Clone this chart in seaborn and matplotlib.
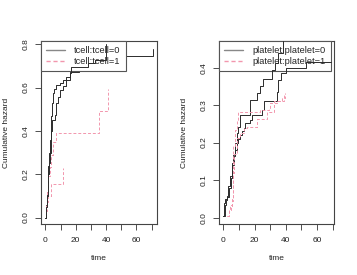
import matplotlib
matplotlib.use("Agg")
import matplotlib.pyplot as plt
from matplotlib.lines import Line2D
import seaborn as sns
import pandas as pd

# ---- data: left panel (tcell) ----
tcell0_a_time = [0, 0.5, 1, 1.5, 2, 2.5, 3, 3.5, 4, 4.5, 5, 6, 7.2, 9.4, 11.6, 13.9, 16, 22, 30, 40, 71]
tcell0_a_haz = [0, 0.06, 0.12, 0.18, 0.24, 0.30, 0.36, 0.41, 0.47, 0.53, 0.574, 0.595, 0.612, 0.62, 0.635, 0.651, 0.674, 0.69, 0.71, 0.745, 0.776]
tcell0_b_time = [0, 0.5, 1, 1.5, 2, 2.5, 3, 3.5, 4, 4.4, 6.1, 7.2, 8.3, 9.4, 11.6, 13.9, 16, 17.2, 28, 33, 40]
tcell0_b_haz = [0, 0.05, 0.1, 0.15, 0.2, 0.25, 0.3, 0.35, 0.40, 0.45, 0.474, 0.528, 0.558, 0.589, 0.605, 0.635, 0.666, 0.697, 0.712, 0.728, 0.80]
tcell1_a_time = [0.3, 0.7, 1.2, 1.8, 2.9, 4, 5, 6.8, 35.3, 41.3]
tcell1_a_haz = [0.02, 0.06, 0.12, 0.19, 0.235, 0.29, 0.35, 0.39, 0.492, 0.592]
tcell1_b_time = [0.5, 1.2, 1.8, 3.5, 11.3]
tcell1_b_haz = [0.03, 0.07, 0.10, 0.154, 0.228]

# ---- data: right panel (platelet) ----
plt0_a_time = [0, 0.6, 1.2, 2.1, 3.2, 4.3, 5.3, 6.4, 7.4, 8.5, 9.6, 10.6, 17, 21.3, 23.4, 25.1, 30.9, 33, 35, 38.3]
plt0_a_haz = [0.004, 0.04, 0.05, 0.058, 0.084, 0.11, 0.146, 0.168, 0.2, 0.226, 0.243, 0.274, 0.314, 0.332, 0.35, 0.369, 0.394, 0.412, 0.44, 0.47]
plt0_b_time = [0, 0.8, 1.5, 2.4, 3.5, 4.6, 5.6, 6.6, 7.4, 8.5, 9.6, 10.6, 11.9, 13, 14, 17.2, 18.3, 24.7, 25.8, 33.2, 34.3, 35.1, 37.2, 40.4, 53.2, 69]
plt0_b_haz = [0.004, 0.035, 0.047, 0.055, 0.08, 0.105, 0.14, 0.165, 0.181, 0.2, 0.21, 0.22, 0.232, 0.239, 0.252, 0.261, 0.274, 0.288, 0.31, 0.31, 0.336, 0.367, 0.385, 0.398, 0.414, 0.414]
plt1_a_time = [2.1, 3.5, 4.3, 5.3, 6.0, 6.4, 7.4, 8.5, 9.6, 23.6, 29, 30, 34.3, 37.5, 39.4]
plt1_a_haz = [0.004, 0.02, 0.035, 0.05, 0.13, 0.19, 0.235, 0.26, 0.283, 0.287, 0.292, 0.305, 0.31, 0.319, 0.332]
plt1_b_time = [2.5, 3.7, 4.8, 5.5, 6.2, 7.0, 8.7, 10.9, 13, 15.1, 21.5, 27.9, 32.2, 38.5]
plt1_b_haz = [0.004, 0.02, 0.03, 0.045, 0.12, 0.17, 0.212, 0.226, 0.239, 0.243, 0.263, 0.283, 0.31, 0.327]

labels_left = ["tcell:tcell=0", "tcell:tcell=1"]
labels_right = ["platelet:platelet=0", "platelet:platelet=1"]
x_ticks = [0, 10, 20, 30, 40, 50, 60, 70]
x_ticklabels = ["0", "", "20", "", "40", "", "60", ""]
y_ticks_left = [0.0, 0.2, 0.4, 0.6, 0.8]
y_ticks_right = [0.0, 0.1, 0.2, 0.3, 0.4]

sns.set_theme(style="ticks")
plt.rcParams["font.family"] = ["Liberation Sans", "DejaVu Sans"]

BLACK = "#2b2b2b"
PINK = "#f296ad"
LW = 0.7

fig = plt.figure(figsize=(3.57, 2.75), dpi=100)
ax1 = fig.add_axes([41/357, 51/275, 116/357, 183/275])
ax2 = fig.add_axes([219.3/357, 51/275, 114.7/357, 183/275])


def step(ax, t, h, color, ls, z):
    df = pd.DataFrame({"time": t, "haz": h})
    sns.lineplot(data=df, x="time", y="haz", ax=ax, color=color, linestyle=ls,
                 linewidth=LW, drawstyle="steps-post", estimator=None, sort=False,
                 legend=False, zorder=z)


# left
step(ax1, tcell0_a_time, tcell0_a_haz, BLACK, "-", 2)
step(ax1, tcell0_b_time, tcell0_b_haz, BLACK, "-", 6)
step(ax1, tcell1_a_time, tcell1_a_haz, PINK, (0, (3, 2)), 2)
step(ax1, tcell1_b_time, tcell1_b_haz, PINK, (0, (3, 2)), 2)
# right
step(ax2, plt0_a_time, plt0_a_haz, BLACK, "-", 6)
step(ax2, plt0_b_time, plt0_b_haz, BLACK, "-", 6)
step(ax2, plt1_a_time, plt1_a_haz, PINK, (0, (3, 2)), 6)
step(ax2, plt1_b_time, plt1_b_haz, PINK, (0, (3, 2)), 6)

for ax, yt, ylim, xlim, labs in [
    (ax1, y_ticks_left, (-0.03, 0.815), (-2.9, 73.6), labels_left),
    (ax2, y_ticks_right, (-0.017, 0.471), (-2.6, 70.8), labels_right),
]:
    ax.set_xlim(*xlim)
    ax.set_ylim(*ylim)
    ax.set_xticks(x_ticks)
    ax.set_xticklabels(x_ticklabels)
    ax.set_yticks(yt)
    ax.set_yticklabels([f"{v:.1f}" for v in yt], rotation=90, va="center")
    ax.tick_params(axis="both", direction="out", length=4, width=0.6,
                   labelsize=6, color="#333333", labelcolor="#222222")
    ax.tick_params(axis="x", pad=5.5)
    ax.tick_params(axis="y", pad=4.5)
    for s in ax.spines.values():
        s.set_visible(True)
        s.set_linewidth(0.8)
        s.set_color("#444444")
    ax.set_xlabel("time", fontsize=6, labelpad=8, color="#222222")
    ax.set_ylabel("Cumulative hazard", fontsize=6, labelpad=9, color="#222222")
    handles = [Line2D([], [], color="#888888", lw=LW + 0.3, ls="-"),
               Line2D([], [], color=PINK, lw=LW + 0.3, ls=(0, (3, 2)))]
    leg = ax.legend(handles, labs, loc="upper left", bbox_to_anchor=(0, 1),
                    borderaxespad=0, fontsize=6.7, frameon=True, fancybox=False,
                    framealpha=1, facecolor="white", edgecolor="#555555",
                    handlelength=2.0, handletextpad=1.0, labelspacing=0.2,
                    borderpad=0.55)
    leg.get_frame().set_linewidth(0.8)
    leg.set_zorder(5)

fig.savefig("out.png", dpi=100)
